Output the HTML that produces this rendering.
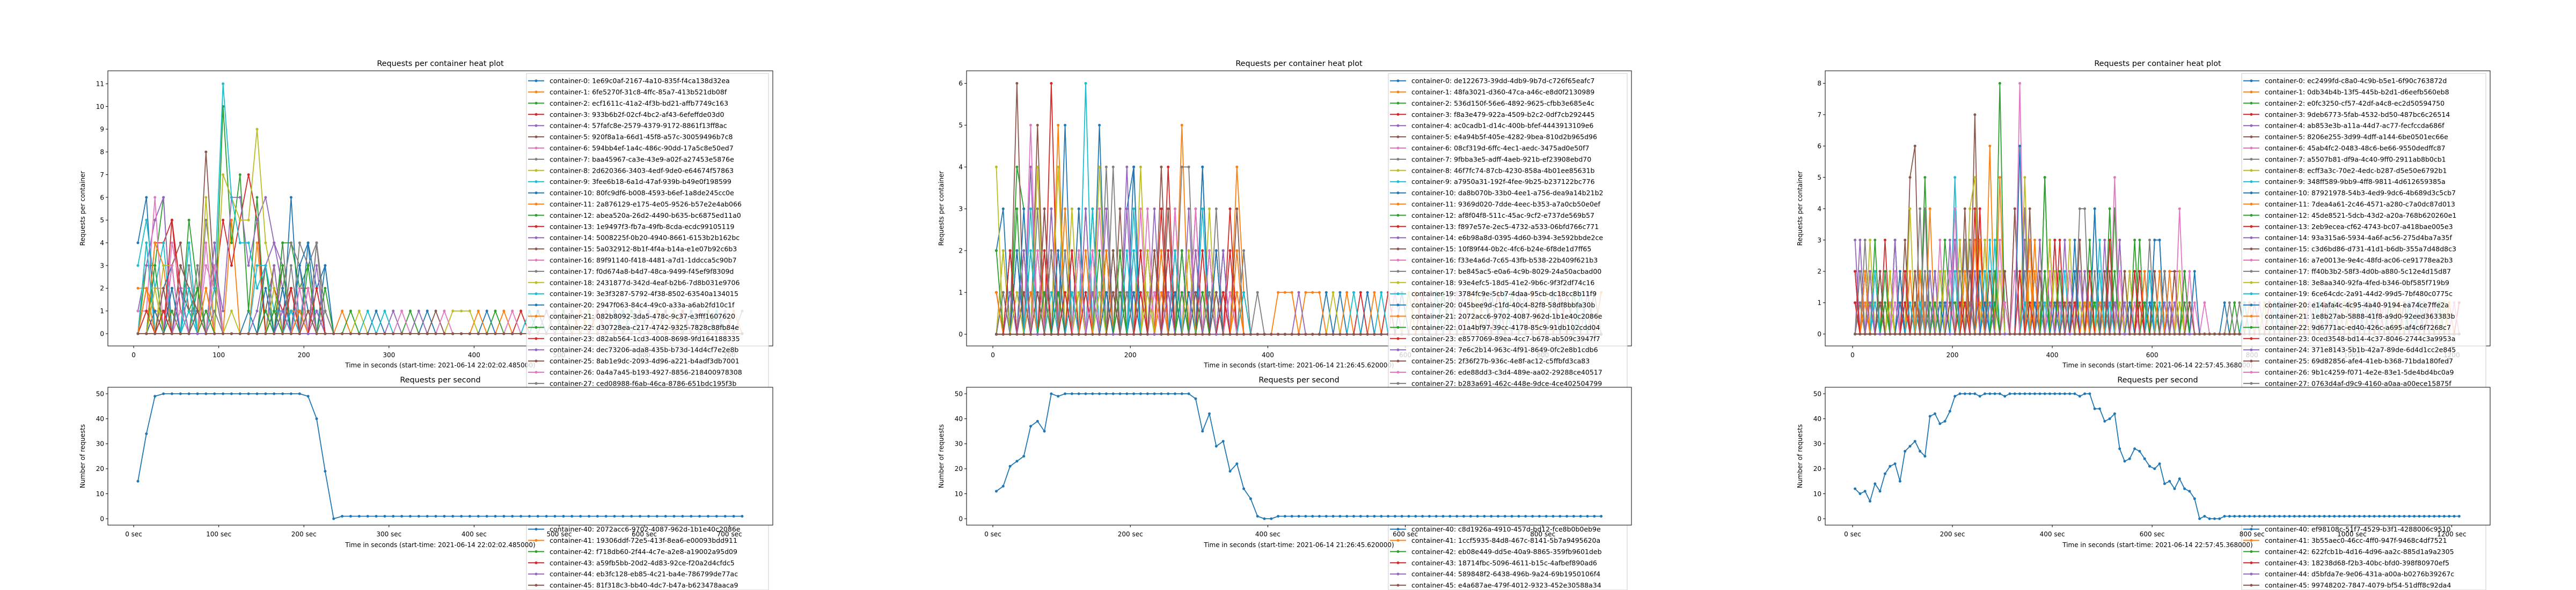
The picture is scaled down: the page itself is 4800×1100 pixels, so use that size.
<!DOCTYPE html>
<html><head><meta charset="utf-8"><title>Requests per container</title>
<style>
html,body{margin:0;padding:0;background:#fff;width:4800px;height:1100px;overflow:hidden;}
svg{display:block;overflow:hidden;font-family:"DejaVu Sans","Liberation Sans",sans-serif;}
</style></head>
<body>
<svg id="fig" xmlns="http://www.w3.org/2000/svg" width="4800" height="1100" viewBox="0 0 4800 1100">
<rect x="0" y="0" width="4800" height="1100" fill="#fff"/>
</svg>
<script>
// ---------------- data ----------------
const p1Rps = [15,34,49,50,50,50,50,50,50,50,50,50,50,50,50,50,50,50,50,50,49,40,19,0,
 1,1,1,1,1,1,1,1,1,1,1,1,1,1,1,1,1,1,1,1,1,1,1,1,1,1,1,1,1,1,1,1,1,1,1,1,1,1,1,1,1,1,1,1,1,1,1,1];
const p2Rps = [11,13,21,23,25,37,39,35,50,49,50,50,50,50,50,50,50,50,50,50,50,50,50,50,50,50,50,50,50,48,35,42,29,31,19,22,12,8,1,0,0,
 1,1,1,1,1,1,1,1,1,1,1,1,1,1,1,1,1,1,1,1,1,1,1,1,1,1,1,1,1,1,1,1,1,1,1,1,1,1,1,1,1,1,1,1,1,1,1,1];
const p3Rps = [12,10,11,7,14,11,18,21,22,15,27,29,31,27,25,41,42,38,39,43,49,50,50,50,50,49,50,50,50,50,49,
 50,50,50,50,50,50,50,50,50,50,50,50,50,50,
 49,50,50,44,44,39,40,42,28,23,24,28,27,24,21,20,22,14,15,12,16,12,11,8,0,1,0,0,0,
 1,1,1,1,1,1,1,1,1,1,1,1,1,1,1,1,1,1,1,1,1,1,1,1,1,1,1,1,1,1,1,1,1,1,1,1,1,1,1,1,1,1,1,1,1,1,1,1];

const p1XTicks = [0,100,200,300,400,500,600,700];
const p2XTicks = [0,200,400,600,800];
const p3XTicks = [0,200,400,600,800,1000,1200];
const p1YTicks = [0,1,2,3,4,5,6,7,8,9,10,11];
const p2YTicks = [0,1,2,3,4,5,6];
const p3YTicks = [0,1,2,3,4,5,6,7,8];
const rpsYTicks = [0,10,20,30,40,50];

// sparse per-container values "index:value" (time index i -> t = 5 + 10*i seconds)
const p1Spikes = [
 "0:4 1:6 4:3 13:1 18:6 20:4 22:3","0:2 1:2 2:1 3:1 4:1 8:2 11:5 14:4","1:3 2:3 3:6 6:5 7:2 10:10 11:4 12:7 13:1 14:6",
 "2:4 3:4 4:5 5:1 9:2 10:5 11:3 12:5 13:7 14:5 19:2 20:2","0:1 1:3 2:5 3:6 9:3 10:1 11:6 12:6 13:3 14:5 15:6 16:4 17:3 21:1",
 "4:3 5:4 6:1 7:1 8:8 9:2 15:1 16:3 21:4","0:1 1:1 2:6 4:4 5:2 6:2 8:3 9:2 17:2 21:1","6:3 8:5 9:2 17:4 19:4 20:3 21:4 22:1",
 "1:4 3:1 8:6 10:7 11:6 12:5 13:5 14:9 15:4 16:2","0:3 1:5 2:2 3:4 6:4 9:2 10:11 11:6 12:4 13:4 14:2 15:3 17:1 18:2",
 "5:3 6:2 15:1 17:2 19:3 20:4 21:2 22:3","2:4 3:3 8:1 16:1 20:1","2:3 4:2 6:1 7:2 15:3 17:4 18:4 19:2 20:3 22:2",
 "4:5 5:2 16:2 17:1 18:2 20:2","2:2 3:2 14:1 15:3 16:4 17:2 19:1","5:2 6:1 17:3 19:1","2:2 3:2 5:2 8:4 18:2",
 "7:3 17:2 18:4 19:3 21:4","3:3 4:3 9:4 11:1 16:3 18:2","1:4 6:4 14:3 15:3 16:1 17:1 21:2","3:2 4:3 19:3 20:1",
 "2:1 5:1 18:1 19:1","7:2 16:1 17:3 20:3","1:2 18:1 20:2","5:2 9:4 16:3 21:3","5:3 6:2 7:1 18:1","4:3 9:3 20:2",
 "7:3 18:3 22:1","3:1 16:2","6:2 19:1","2:1 17:2","8:2 20:1","4:1 15:1","1:1 18:2","7:1 21:1","3:2 16:1","5:1 19:2",
 "9:1 17:1","2:2 20:1","6:1 18:1","4:2 15:2","1:2 19:1","8:1 16:1","3:1 21:2","5:2 17:1","7:1 20:1"];
const p2Spikes = [
 "0:2 1:3 10:5 15:5 20:4 22:1 30:4 32:2","2:2 9:5 12:3 18:2 27:5 29:2 35:4 36:1","1:1 3:4 4:3 8:2 14:3 21:2 26:3 33:2",
 "0:1 2:1 8:6 12:2 17:2 25:4 31:2 34:3","5:4 7:3 11:2 16:3 19:4 23:3 28:2 33:2","3:6 6:5 9:2 13:3 18:3 24:4 29:3 35:3",
 "5:5 8:3 14:2 21:3 26:3 30:2 34:2","1:1 6:3 11:1 17:4 22:2 27:4 28:4 32:3 36:2 38:1","0:4 6:4 9:4 15:4 21:4 25:1 31:3",
 "4:2 10:3 13:6 17:2 20:3 28:2 30:3","4:3 7:1 12:3 19:3 20:4 27:2 30:4","2:2 10:3 14:3 18:2 24:2 29:2 36:1",
 "3:3 5:2 12:2 16:2 22:2 26:2 33:1","2:2 7:2 11:2 16:2 24:3 32:2 34:2","3:2 8:3 13:3 19:3 23:2 28:3 35:2",
 "4:2 7:3 14:2 23:2 25:3 31:2","1:2 9:2 15:3 22:3 26:2 29:3","2:2 6:2 16:4 21:2 27:2 36:2","1:2 7:2 11:3 18:2 23:2 30:1",
 "5:3 10:2 14:3 19:2 24:2 33:2","1:1 3:2 12:1 20:2 25:2 31:1","4:2 8:2 13:2 22:2 28:2 34:1","2:1 6:2 15:2 20:1 26:1 32:1",
 "0:1 5:1 11:2 17:1 25:2 35:1","3:1 9:1 13:1 18:1 24:1 30:1","2:1 7:1 16:1 21:1 27:1 33:1","4:1 14:2 23:1 31:2",
 "6:1 10:2 19:1 29:1","1:2 12:1 22:2 34:1","8:1 15:1 26:2 32:1","3:2 11:1 20:1 28:1","5:1 16:2 24:1 35:1","0:2 9:1 18:2 27:1",
 "7:2 13:1 21:1 30:2","2:1 14:1 25:1 33:2","4:1 10:1 17:2 29:1","6:2 12:2 23:1 34:1","1:1 8:2 19:1 31:1","3:1 15:1 22:1 28:2",
 "5:2 11:1 20:2 36:1","9:2 16:1 26:1 32:2","0:1 13:2 24:2 35:2","7:1 18:1 27:2 30:1","2:2 10:1 21:2 33:1","4:2 14:1 25:1 29:2","6:1 17:1 23:2 32:1"];
const p3Spikes = [
 "0:2 2:2 7:1 16:2 30:1 40:3 48:4 60:3 61:3","3:2 13:2 24:3 27:6 29:5 35:1 47:2 63:1","4:3 14:5 21:1 22:1 23:1 29:8 38:5 44:2 52:4 57:3",
 "0:1 9:2 22:2 25:4 32:4 39:3 53:3 64:2 65:2","0:3 5:2 8:3 19:2 34:4 42:3 50:3 58:2 67:1","1:1 11:5 12:6 24:7 32:4 41:2 55:2 66:2",
 "1:2 17:3 28:2 33:8 37:3 52:5 65:4 70:1","2:3 13:4 22:3 34:3 45:4 46:4 59:3 62:2 67:1","3:3 11:4 23:4 24:5 34:5 43:3 54:2",
 "6:2 20:5 27:3 36:2 49:3 56:2","5:1 16:2 26:1 33:6 44:3 48:4 60:3 61:3","7:2 15:4 26:3 36:3 46:2 58:2 67:1",
 "8:3 18:3 19:1 20:1 30:1 38:5 47:3 51:4 56:3","6:3 21:3 25:4 40:3 51:3 63:2 64:2","1:3 8:3 19:3 37:3 45:2 53:3",
 "4:2 10:3 22:4 35:4 45:3 57:2 62:2","2:2 12:2 20:4 32:2 44:1 55:2 66:2","5:2 14:4 23:3 37:2 49:2 61:2","3:2 9:2 21:3 26:3 39:3 50:1",
 "7:1 17:2 28:3 42:2 54:1 63:1","2:2 10:1 18:2 36:2 43:2 52:1 59:2","4:2 11:2 25:3 35:2 47:1 57:2","6:1 15:2 19:1 20:1 27:2 38:2 48:1 60:1",
 "3:1 13:2 24:4 33:2 41:3 56:2","0:2 9:2 20:3 30:2 46:2 62:1","5:2 12:1 23:2 37:2 51:2 64:2","8:2 16:1 29:3 39:2 53:2 68:1",
 "1:1 14:2 21:2 34:2 50:1 58:1","7:2 18:2 27:1 40:2 55:2 65:1","4:1 13:1 26:2 38:1 49:2 61:1","9:2 17:1 25:2 36:1 44:2 59:1",
 "2:1 11:2 22:2 35:3 46:1 63:2","6:2 15:1 28:2 41:2 52:2 66:1","0:1 10:2 21:1 33:2 47:2 57:1","3:2 16:2 24:2 39:1 54:1 64:1",
 "5:1 12:2 27:2 42:1 50:2 60:2","8:1 19:2 30:1 43:2 56:1 67:2","1:2 14:1 23:1 37:1 48:2 62:2","7:1 17:2 29:2 45:1 53:1 65:2",
 "4:2 11:1 20:2 34:1 51:1 59:2","9:1 18:1 26:1 40:1 55:1 68:2","2:2 13:2 25:1 36:2 49:1 61:2","6:1 16:1 28:1 38:2 58:1 66:2",
 "0:2 10:1 22:1 35:1 44:1 57:2","3:1 15:2 27:1 41:1 52:1 63:1","5:2 19:1 30:2 43:1 54:2 67:1"];

const p1TailStart = 24;
const p1Tail = [1,2,8,9,0,9,4,6,2,4,0,5,6,8,8,8,1,0,2,1,6,3,9,0,4,7,2,5,1,8,3,6,0,9,2,7,4,1,5,8,3,0,6,2,9,4,1,7];
const p2TailStart = 41;
const p2Tail = [1,1,1,4,1,1,1,0,8,0,1,9,3,0,1,9,3,6,0,8,1,3,6,9,2,7,6,4,1,8,5,0,3,9,2,4,7,1,6,8,0,3,5,2,9,4,7,1];
const p3TailStart = 74;
const p3Tail = [0,7,2,7,9,1,4,6,8,3,9,0,5,2,6,8,1,4,7,9,3,0,2,6,8,5,1,9,4,7,0,3,6,2,8,1,5,9,4,0,7,3,6,2,8,1,6,3];

const p1Labels = ["1e69c0af-2167-4a10-835f-f4ca138d32ea","6fe5270f-31c8-4ffc-85a7-413b521db08f","ecf1611c-41a2-4f3b-bd21-affb7749c163","933b6b2f-02cf-4bc2-af43-6efeffde03d0","57fafc8e-2579-4379-9172-8861f13ff8ac","920f8a1a-66d1-45f8-a57c-30059496b7c8","594bb4ef-1a4c-486c-90dd-17a5c8e50ed7","baa45967-ca3e-43e9-a02f-a27453e5876e","2d620366-3403-4edf-9de0-e64674f57863","3fee6b18-6a1d-47af-939b-b49e0f198599","80fc9df6-b008-4593-b6ef-1a8de245cc0e","2a876129-e175-4e05-9526-b57e2e4ab066","abea520a-26d2-4490-b635-bc6875ed11a0","1e9497f3-fb7a-49fb-8cda-ecdc99105119","5008225f-0b20-4940-8661-6153b2b162bc","5a032912-8b1f-4f4a-b14a-e1e07b92c6b3","89f91140-f418-4481-a7d1-1ddcca5c90b7","f0d674a8-b4d7-48ca-9499-f45ef9f8309d","2431877d-342d-4eaf-b2b6-7d8b031e9706","3e3f3287-5792-4f38-8502-63540a134015","2947f063-84c4-49c0-a33a-a6ab2fd10c1f","082b8092-3da5-478c-9c37-e3fff1607620","d30728ea-c217-4742-9325-7828c88fb84e","d82ab564-1cd3-4008-8698-9fd164188335","dec73206-ada8-435b-b73d-14d4cf7e2e8b","8ab1e9dc-2093-4d96-a221-b4adf3db7001","0a4a7a45-b193-4927-8856-218400978308","ced08988-f6ab-46ca-8786-651bdc195f3b",
 "","","","","","","","","","","","",
 "2072acc6-9702-4087-962d-1b1e40c2086e","19306ddf-72e5-413f-8ea6-e00093bdd911","f718db60-2f44-4c7e-a2e8-a19002a95d09","a59fb5bb-20d2-4d83-92ce-f20a2d4cfdc5","eb3fc128-eb85-4c21-ba4e-786799de77ac","81f318c3-bb40-4dc7-b47a-b623478aaca9"];
const p2Labels = ["de122673-39dd-4db9-9b7d-c726f65eafc7","48fa3021-d360-47ca-a46c-e8d0f2130989","536d150f-56e6-4892-9625-cfbb3e685e4c","f8a3e479-922a-4509-b2c2-0df7cb292445","ac0cadb1-d14c-400b-bfef-4443913109e6","e4a94b5f-405e-4282-9bea-810d2b965d96","08cf319d-6ffc-4ec1-aedc-3475ad0e50f7","9fbba3e5-adff-4aeb-921b-ef23908ebd70","46f7fc74-87cb-4230-858a-4b01ee85631b","a7950a31-192f-4fee-9b25-b237122bc776","da8b070b-33b0-4ee1-a756-dea9a14b21b2","9369d020-7dde-4eec-b353-a7a0cb50e0ef","af8f04f8-511c-45ac-9cf2-e737de569b57","f897e57e-2ec5-4732-a533-06bfd766c771","e6b98a8d-0395-4d60-b394-3e592bbde2ce","10f89f44-0b2c-4fc6-b24e-6f8de1d7ff65","f33e4a6d-7c65-43fb-b538-22b409f621b3","be845ac5-e0a6-4c9b-8029-24a50acbad00","93e4efc5-18d5-41e2-9b6c-9f3f2df74c16","3784fc9e-5cb7-4daa-95cb-dc18cc8b11f9","045bee9d-c1fd-40c4-82f8-58df8bbfa30b","2072acc6-9702-4087-962d-1b1e40c2086e","01a4bf97-39cc-4178-85c9-91db102cdd04","e8577069-89ea-4cc7-b678-ab509c3947f7","7e6c2b14-963c-4f91-8649-0fc2e8b1cdb6","2f36f27b-936c-4e8f-ac12-c5ffbfd3ca83","ede88dd3-c3d4-489e-aa02-29288ce40517","b283a691-462c-448e-9dce-4ce402504799",
 "","","","","","","","","","","","",
 "c8d1926a-4910-457d-bd12-fce8b0b0eb9e","1ccf5935-84d8-467c-8141-5b7a9495620a","eb08e449-dd5e-40a9-8865-359fb9601deb","18714fbc-5096-4611-b15c-4afbef890ad6","589848f2-6438-496b-9a24-69b1950106f4","e4a687ae-479f-4012-9323-452e30588a34"];
const p3Labels = ["ec2499fd-c8a0-4c9b-b5e1-6f90c763872d","0db34b4b-13f5-445b-b2d1-d6eefb560eb8","e0fc3250-cf57-42df-a4c8-ec2d50594750","9deb6773-5fab-4532-bd50-487bc6c26514","ab853e3b-a11a-44d7-ac77-fecfccda686f","8206e255-3d99-4dff-a144-6be0501ec66e","45ab4fc2-0483-48c6-be66-9550dedffc87","a5507b81-df9a-4c40-9ff0-2911ab8b0cb1","ecff3a3c-70e2-4edc-b287-d5e50e6792b1","348ff589-9bb9-4ff8-9811-4d612659385a","87921978-54b3-4ed9-9dc6-4b689d3c5cb7","7dea4a61-2c46-4571-a280-c7a0dc87d013","45de8521-5dcb-43d2-a20a-768b620260e1","2eb9ecea-cf62-4743-bc07-a418bae005e3","93a315a6-5934-4a6f-ac56-275d4ba7a35f","c3d6bd86-d731-41d1-b6db-355a7d48d8c3","a7e0013e-9e4c-48fd-ac06-ce91778ea2b3","ff40b3b2-58f3-4d0b-a880-5c12e4d15d87","3e8aa340-92fa-4fed-b346-0bf585f719b9","6ce64cdc-2a91-44d2-99d5-7bf480c0775c","e14afa4c-4c95-4a40-9194-ea74ce7ffe2a","1e8b27ab-5888-41f8-a9d0-92eed363383b","9d6771ac-ed40-426c-a695-af4c6f7268c7","0ced3548-bd14-4c37-8046-2744c3a9953a","371e8143-5b1b-42a7-89de-6d4d1cc2e845","69d82856-afe4-41eb-b368-71bda180fed7","9b1c4259-f071-4e2e-83e1-5de4bd4bc0a9","0763d4af-d9c9-4160-a0aa-a00ece15875f",
 "","","","","","","","","","","","",
 "ef98108c-51f7-4529-b3f1-4288006c9510","3b55aec0-46cc-4ff0-947f-9468c4df7521","622fcb1b-4d16-4d96-aa2c-885d1a9a2305","18238d68-f2b3-40bc-bfd0-398f80970ef5","d5bfda7e-9e06-431a-a00a-b0276b39267c","99748202-7847-4079-bf54-51dff8c92da4"];

// ---------------- layout (not data) ----------------
const COLORS = ["#1f77b4","#ff7f0e","#2ca02c","#d62728","#9467bd","#8c564b","#e377c2","#7f7f7f","#bcbd22","#17becf"];
const AX_L = 201, AX_R = 1440, TOP_T = 132, TOP_B = 645, BOT_T = 722, BOT_B = 979;
const RPS_MIN = -2.55, RPS_MAX = 52.6;
const panels = [
 {ox:0, xmin:-30.3, xmax:751, ymin:-0.54, ymax:11.57, xt:p1XTicks, yt:p1YTicks, rps:p1Rps, spikes:p1Spikes, tailStart:p1TailStart, tail:p1Tail, labels:p1Labels, start:"2021-06-14 22:02:02.485000", legL:981, legR:1432},
 {ox:1600, xmin:-38.3, xmax:929, ymin:-0.28, ymax:6.3, xt:p2XTicks, yt:p2YTicks, rps:p2Rps, spikes:p2Spikes, tailStart:p2TailStart, tail:p2Tail, labels:p2Labels, start:"2021-06-14 21:26:45.620000", legL:2587, legR:3032},
 {ox:3200, xmin:-54.8, xmax:1277, ymin:-0.38, ymax:8.4, xt:p3XTicks, yt:p3YTicks, rps:p3Rps, spikes:p3Spikes, tailStart:p3TailStart, tail:p3Tail, labels:p3Labels, start:"2021-06-14 22:57:45.368000", legL:4177, legR:4632}
];
const T0 = 5, DT = 10;

const NS = "http://www.w3.org/2000/svg";
const svg = document.getElementById("fig");
function mk(tag, parent) { const e = document.createElementNS(NS, tag); parent.appendChild(e); return e; }
function setA(e, o) { for (const k in o) e.setAttribute(k, o[k]); return e; }
function txt(parent, x, y, s, size, anchor) {
  const t = mk("text", parent);
  setA(t, {x:x, y:y, "font-size":size, "text-anchor":anchor || "middle", fill:"#000"});
  t.textContent = s;
  return t;
}
const defs = mk("defs", svg);
const figClip = mk("clipPath", defs); figClip.setAttribute("id", "figclip");
setA(mk("rect", figClip), {x:0, y:0, width:4800, height:1100});
const root = mk("g", svg);
root.setAttribute("clip-path", "url(#figclip)");



panels.forEach((p, pi) => {
  const g = mk("g", root);
  
  
  const L = p.ox + AX_L, R = p.ox + AX_R, W = R - L;
  const sx = t => L + (t - p.xmin) / (p.xmax - p.xmin) * W;
  const sy = v => TOP_B - (v - p.ymin) / (p.ymax - p.ymin) * (TOP_B - TOP_T);
  const by = v => BOT_B - (v - RPS_MIN) / (RPS_MAX - RPS_MIN) * (BOT_B - BOT_T);
  const cx = (L + R) / 2;

  const c1 = mk("clipPath", defs); c1.setAttribute("id", "ct" + pi);
  setA(mk("rect", c1), {x:L, y:TOP_T, width:W, height:TOP_B - TOP_T});
  const c2 = mk("clipPath", defs); c2.setAttribute("id", "cb" + pi);
  setA(mk("rect", c2), {x:L, y:BOT_T, width:W, height:BOT_B - BOT_T});

  // ---- top heat plot ----
  const tt = txt(g, cx, 123, "Requests per container heat plot", 14.4);
  
  

  const lines = mk("g", g);
  lines.setAttribute("clip-path", "url(#ct" + pi + ")");
  
  
  const N = p.rps.length;
  p.spikes.forEach((sp, si) => {
    const vals = new Array(N).fill(0);
    sp.split(" ").forEach(pair => { const a = pair.split(":"); vals[+a[0]] = +a[1]; });
    p.tail.forEach((c, k) => { if (c === si) vals[p.tailStart + k] = 1; });
    const col = COLORS[si % 10];
    const sg = mk("g", lines);
    
    
    const pts = vals.map((v, i) => sx(T0 + DT * i).toFixed(1) + "," + sy(v).toFixed(1)).join(" ");
    setA(mk("polyline", sg), {points:pts, fill:"none", stroke:col, "stroke-width":1.8, "stroke-linejoin":"round"});
    vals.forEach((v, i) => {
      const c = mk("circle", sg);
      setA(c, {cx:sx(T0 + DT * i).toFixed(1), cy:sy(v).toFixed(1), r:2.5, fill:col});
    });
  });

  const fr = mk("rect", g);
  setA(fr, {x:L, y:TOP_T, width:W, height:TOP_B - TOP_T, fill:"none", stroke:"#000", "stroke-width":1});
  
  

  p.xt.forEach(t => {
    const x = sx(t);
    setA(mk("line", g), {x1:x, x2:x, y1:TOP_B, y2:TOP_B + 4, stroke:"#000", "stroke-width":1});
    const lb = txt(g, x, 666, String(t), 12);
    
    
  });
  p.yt.forEach(v => {
    const y = sy(v);
    setA(mk("line", g), {x1:L - 4, x2:L, y1:y, y2:y, stroke:"#000", "stroke-width":1});
    const lb = txt(g, L - 7, y + 4.3, String(v), 12, "end");
    
    
  });
  const xl = txt(g, cx, 685, "Time in seconds (start-time: " + p.start + ")", 12);
  
  
  const yl = txt(g, 0, 0, "Requests per container", 12);
  yl.setAttribute("transform", "translate(" + (L - 43) + "," + ((TOP_T + TOP_B) / 2) + ") rotate(-90)");
  
  

  // legend
  const lg = mk("g", g);
  
  
  setA(mk("rect", lg), {x:p.legL, y:137, width:p.legR - p.legL, height:963, fill:"#fff", "fill-opacity":0.8, stroke:"#cccccc", "stroke-width":1});
  p.labels.forEach((s, n) => {
    if (!s) return;
    const y = 150.6 + 20.9 * n;
    const col = COLORS[n % 10];
    const eg = mk("g", lg);
    
    
    setA(mk("line", eg), {x1:p.legL + 3, x2:p.legL + 33, y1:y, y2:y, stroke:col, "stroke-width":2});
    setA(mk("circle", eg), {cx:p.legL + 18, cy:y, r:2.5, fill:col});
    txt(eg, p.legL + 43, y + 4.5, "container-" + n + ": " + s, 12.5, "start");
  });

  // ---- bottom: requests per second ----
  const bt = txt(g, cx, 713, "Requests per second", 14.4);
  
  
  const bg = mk("rect", g);
  setA(bg, {x:L, y:BOT_T, width:W, height:BOT_B - BOT_T, fill:"#fff"});
  
  
  const rl = mk("g", g);
  rl.setAttribute("clip-path", "url(#cb" + pi + ")");
  
  
  const rpts = p.rps.map((v, i) => sx(T0 + DT * i).toFixed(1) + "," + by(v).toFixed(1)).join(" ");
  setA(mk("polyline", rl), {points:rpts, fill:"none", stroke:COLORS[0], "stroke-width":1.8, "stroke-linejoin":"round"});
  p.rps.forEach((v, i) => {
    const c = mk("circle", rl);
    setA(c, {cx:sx(T0 + DT * i).toFixed(1), cy:by(v).toFixed(1), r:2.5, fill:COLORS[0]});
  });
  const bf = mk("rect", g);
  setA(bf, {x:L, y:BOT_T, width:W, height:BOT_B - BOT_T, fill:"none", stroke:"#000", "stroke-width":1});
  
  
  p.xt.forEach(t => {
    const x = sx(t);
    setA(mk("line", g), {x1:x, x2:x, y1:BOT_B, y2:BOT_B + 4, stroke:"#000", "stroke-width":1});
    const lb = txt(g, x, 1000, t + " sec", 12);
    
    
  });
  rpsYTicks.forEach(v => {
    const y = by(v);
    setA(mk("line", g), {x1:L - 4, x2:L, y1:y, y2:y, stroke:"#000", "stroke-width":1});
    const lb = txt(g, L - 7, y + 4.3, String(v), 12, "end");
    
    
  });
  const bxl = txt(g, cx, 1020, "Time in seconds (start-time: " + p.start + ")", 12);
  
  
  const byl = txt(g, 0, 0, "Number of requests", 12);
  byl.setAttribute("transform", "translate(" + (L - 43) + "," + ((BOT_T + BOT_B) / 2) + ") rotate(-90)");
  
  
});
</script>
</body></html>
